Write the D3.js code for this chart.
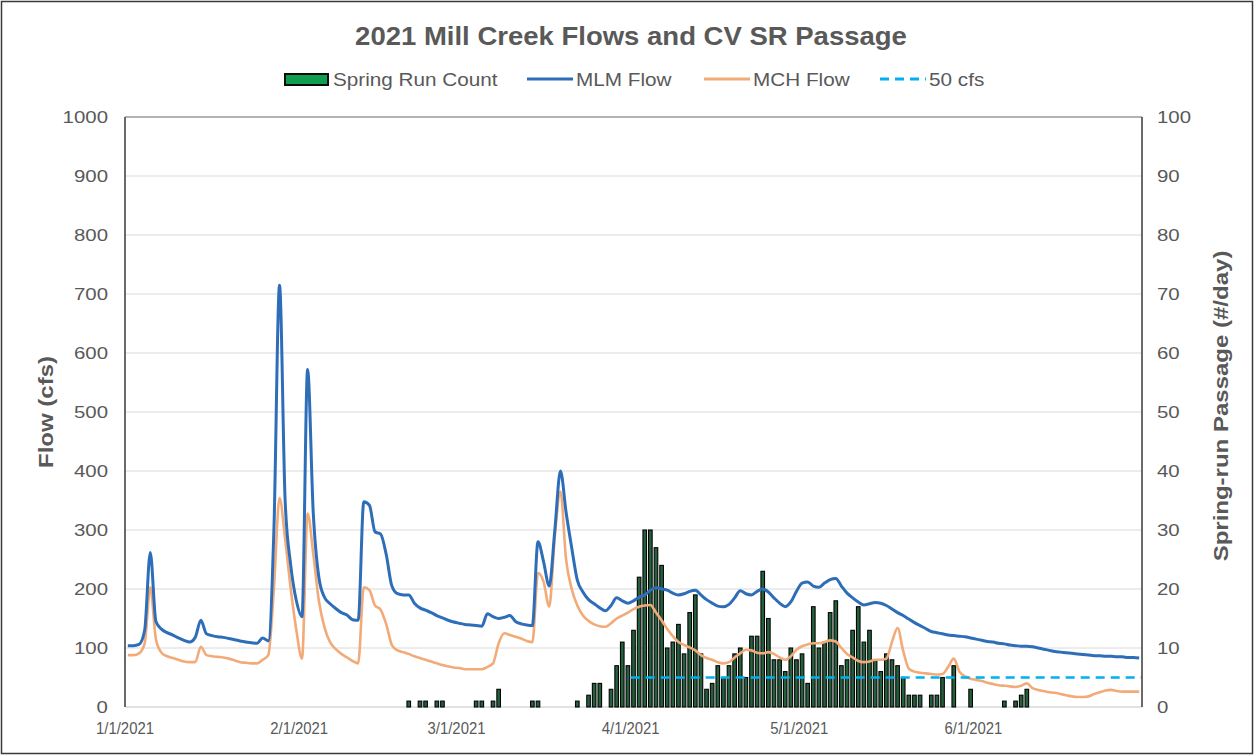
<!DOCTYPE html>
<html>
<head>
<meta charset="utf-8">
<script src="https://cdn.jsdelivr.net/npm/d3@7"></script>
<style>
  body { margin: 0; background: #fff; }
  text { font-family: "Liberation Sans", Arial, sans-serif; fill: #595959; }
</style>
</head>
<body>
<svg id="chart" width="1255" height="756"></svg>
<script>
// ---- Data: daily values, 1 Jan 2021 through 30 Jun 2021 ----
const startDate = "2021-01-01";
const endDate = "2021-07-01";

// MLM gauge flow (cfs)
const mlmFlow = [
  104,104,106,130,262,145,132,126,122,117,
  113,110,118,147,124,121,119,118,116,114,
  112,110,109,108,117,112,300,715,350,240,
  180,153,572,330,220,186,175,167,160,156,
  148,147,348,342,297,293,258,205,192,190,
  190,176,168,164,160,155,151,147,144,142,
  140,139,138,137,158,153,150,152,155,145,
  141,139,138,280,246,205,300,400,330,270,
  215,195,182,175,168,163,172,185,180,176,
  180,186,190,198,202,200,198,193,190,192,
  196,198,190,182,176,171,170,174,185,197,
  192,190,196,200,195,185,176,170,178,196,
  210,212,205,203,210,216,218,205,193,185,
  178,173,175,177,176,172,166,160,155,149,
  143,138,133,128,126,124,122,121,120,119,
  117,115,113,111,110,108,107,105,104,103,
  103,102,100,98,96,94,93,92,91,90,
  89,88,87,87,86,86,85,85,84,84,
  83
];

// MCH gauge flow (cfs)
const mchFlow = [
  88,88,91,108,203,115,92,86,83,80,
  77,76,76,102,88,86,85,84,82,79,
  76,75,74,74,80,88,200,354,285,200,
  130,82,328,260,180,135,110,98,90,84,
  78,74,203,198,172,165,140,105,96,93,
  90,86,83,80,77,74,71,69,67,66,
  64,64,64,64,68,74,108,125,122,119,
  116,112,110,227,212,170,290,365,250,200,
  172,155,146,140,137,136,142,150,155,160,
  166,170,172,173,160,147,132,120,110,105,
  101,96,88,83,80,76,74,76,84,91,
  97,96,92,91,93,90,84,80,86,97,
  103,106,108,108,110,113,111,100,90,84,
  78,76,77,80,80,82,110,134,95,65,
  60,58,57,56,55,56,68,82,60,52,
  48,46,44,41,39,37,36,35,34,36,
  40,32,29,27,25,24,22,20,18,17,
  17,18,22,25,28,29,27,26,26,26,
  26
];

// Spring-run Chinook passage (fish per day)
const springRunCount = [
  0,0,0,0,0,0,0,0,0,0,
  0,0,0,0,0,0,0,0,0,0,
  0,0,0,0,0,0,0,0,0,0,
  0,0,0,0,0,0,0,0,0,0,
  0,0,0,0,0,0,0,0,0,0,
  1,0,1,1,0,1,1,0,0,0,
  0,0,1,1,0,1,3,0,0,0,
  0,0,1,1,0,0,0,0,0,0,
  1,0,2,4,4,0,3,7,11,7,
  13,22,30,30,27,24,10,11,14,9,
  16,19,9,3,4,7,5,7,9,10,
  5,12,12,23,15,8,8,6,10,8,
  9,4,17,10,11,16,18,7,8,13,
  17,11,13,8,6,9,8,7,5,2,
  2,2,0,2,2,5,0,7,0,0,
  3,0,0,0,0,0,1,0,1,2,
  3,0,0,0,0,0,0,0,0,0,
  0,0,0,0,0,0,0,0,0,0,
  0
];

// 50 cfs reference line, shown from 1 April onward
const thresholdFlow = 50;
const thresholdStart = "2021-04-01";

// Axis ticks
const flowTicks = [0, 100, 200, 300, 400, 500, 600, 700, 800, 900, 1000];
const countTicks = [0, 10, 20, 30, 40, 50, 60, 70, 80, 90, 100];
const dateTicks = ["2021-01-01", "2021-02-01", "2021-03-01", "2021-04-01", "2021-05-01", "2021-06-01"];

// ---- Layout ----
const plot = { left: 125, right: 1142, top: 117, bottom: 707 };
const colors = {
  mlm: "#2e6db8",
  mch: "#f2ab78",
  threshold: "#00b0f0",
  barFill: "#24603c",
  barStroke: "#050505",
  grid: "#d9d9d9",
  axis: "#5a5a5a",
  text: "#595959"
};

const parse = d3.utcParse("%Y-%m-%d");
const t0 = parse(startDate), t1 = parse(endDate);
const DAY = 864e5;
const dayDate = i => new Date(t0.getTime() + (i + 0.5) * DAY);

const x = d3.scaleUtc().domain([t0, t1]).range([plot.left, plot.right]);
const yFlow = d3.scaleLinear().domain([0, 1000]).range([plot.bottom, plot.top]);
const yCount = d3.scaleLinear().domain([0, 100]).range([plot.bottom, plot.top]);

const svg = d3.select("#chart");

// widen text horizontally to the chart's typographic proportions
function stretch(sel, f) {
  sel.each(function () {
    const n = this.getComputedTextLength();
    this.setAttribute("textLength", n * f);
    this.setAttribute("lengthAdjust", "spacingAndGlyphs");
  });
}

// Chart frame
svg.append("rect")
  .attr("x", 1.5).attr("y", 1.5).attr("width", 1251).attr("height", 752)
  .attr("fill", "#fff").attr("stroke", "#3a3a3a").attr("stroke-width", 1.5);

// Gridlines
svg.append("g").selectAll("line")
  .data(flowTicks.filter(v => v > 0 && v < 1000))
  .join("line")
  .attr("x1", plot.left).attr("x2", plot.right)
  .attr("y1", d => yFlow(d)).attr("y2", d => yFlow(d))
  .attr("stroke", colors.grid).attr("stroke-width", 1.2);

// top border and bottom axis
svg.append("line")
  .attr("x1", plot.left).attr("x2", plot.right)
  .attr("y1", yFlow(1000)).attr("y2", yFlow(1000))
  .attr("stroke", "#9a9a9a").attr("stroke-width", 1.3);
svg.append("line")
  .attr("x1", plot.left).attr("x2", plot.right)
  .attr("y1", yFlow(0)).attr("y2", yFlow(0))
  .attr("stroke", colors.grid).attr("stroke-width", 1.3);

// Bars: spring-run count on the right axis
const barW = 3.6;
svg.append("g").selectAll("rect")
  .data(springRunCount.map((v, i) => ({ date: dayDate(i), v })).filter(d => d.v > 0))
  .join("rect")
  .attr("x", d => x(d.date) - barW / 2)
  .attr("y", d => yCount(d.v))
  .attr("width", barW)
  .attr("height", d => yCount(0) - yCount(d.v))
  .attr("fill", colors.barFill)
  .attr("stroke", colors.barStroke)
  .attr("stroke-width", 1.1);

// Flow lines
const line = d3.line()
  .x(d => x(d.date))
  .y(d => yFlow(d.v))
  .curve(d3.curveMonotoneX);

svg.append("path")
  .datum(mchFlow.map((v, i) => ({ date: dayDate(i), v })))
  .attr("d", line)
  .attr("fill", "none")
  .attr("stroke", colors.mch)
  .attr("stroke-width", 2.6)
  .attr("stroke-linejoin", "round");

svg.append("path")
  .datum(mlmFlow.map((v, i) => ({ date: dayDate(i), v })))
  .attr("d", line)
  .attr("fill", "none")
  .attr("stroke", colors.mlm)
  .attr("stroke-width", 3)
  .attr("stroke-linejoin", "round");

// 50 cfs reference
svg.append("line")
  .attr("x1", x(parse(thresholdStart))).attr("x2", x(t1))
  .attr("y1", yFlow(thresholdFlow)).attr("y2", yFlow(thresholdFlow))
  .attr("stroke", colors.threshold)
  .attr("stroke-width", 2.6)
  .attr("stroke-dasharray", "9,6");

// Axis lines (left and right)
[plot.left, plot.right].forEach(px => {
  svg.append("line")
    .attr("x1", px).attr("x2", px)
    .attr("y1", plot.top).attr("y2", plot.bottom)
    .attr("stroke", colors.axis).attr("stroke-width", 1.8);
});

// Left axis labels
const leftLabels = svg.append("g").selectAll("text")
  .data(flowTicks)
  .join("text")
  .attr("x", 108)
  .attr("y", d => yFlow(d))
  .attr("dy", "0.36em")
  .attr("text-anchor", "end")
  .attr("font-size", 17)
  .text(d => d);
stretch(leftLabels, 1.2);

// Right axis labels
const rightLabels = svg.append("g").selectAll("text")
  .data(countTicks)
  .join("text")
  .attr("x", 1157)
  .attr("y", d => yCount(d))
  .attr("dy", "0.36em")
  .attr("text-anchor", "start")
  .attr("font-size", 17)
  .text(d => d);
stretch(rightLabels, 1.2);

// Date labels
const fmt = d3.utcFormat("%-m/%-d/%Y");
const dateLabels = svg.append("g").selectAll("text")
  .data(dateTicks.map(parse))
  .join("text")
  .attr("x", d => x(d))
  .attr("y", 734)
  .attr("text-anchor", "middle")
  .attr("font-size", 16)
  .text(d => fmt(d));
stretch(dateLabels, 0.93);

// Title
const title = svg.append("text")
  .attr("x", 631).attr("y", 45)
  .attr("text-anchor", "middle")
  .attr("font-size", 25)
  .attr("font-weight", "bold")
  .text("2021 Mill Creek Flows and CV SR Passage");
stretch(title, 1.1);

// Axis titles
const yTitle = svg.append("text")
  .attr("transform", "translate(53,412) rotate(-90)")
  .attr("text-anchor", "middle")
  .attr("font-size", 20)
  .attr("font-weight", "bold")
  .text("Flow (cfs)");
stretch(yTitle, 1.2);

const y2Title = svg.append("text")
  .attr("transform", "translate(1228,406) rotate(-90)")
  .attr("text-anchor", "middle")
  .attr("font-size", 20)
  .attr("font-weight", "bold")
  .text("Spring-run Passage (#/day)");
stretch(y2Title, 1.2);

// Legend
const legend = svg.append("g");
const legendY = 79;
const legendItems = [
  { label: "Spring Run Count", kind: "bar", x: 285 },
  { label: "MLM Flow", kind: "line", color: colors.mlm, x: 527 },
  { label: "MCH Flow", kind: "line", color: colors.mch, x: 704 },
  { label: "50 cfs", kind: "dash", color: colors.threshold, x: 880 }
];
legendItems.forEach(it => {
  if (it.kind === "bar") {
    legend.append("rect")
      .attr("x", it.x).attr("y", legendY - 5).attr("width", 43).attr("height", 11)
      .attr("fill", "#0f9d50").attr("stroke", "#0b0b0b").attr("stroke-width", 2);
  } else {
    legend.append("line")
      .attr("x1", it.x).attr("x2", it.x + 46)
      .attr("y1", legendY).attr("y2", legendY)
      .attr("stroke", it.color).attr("stroke-width", 2.8)
      .attr("stroke-dasharray", it.kind === "dash" ? "9,6" : null);
  }
  const t = legend.append("text")
    .attr("x", it.x + (it.kind === "bar" ? 48 : 49))
    .attr("y", legendY + 6.5)
    .attr("font-size", 18)
    .text(it.label);
  stretch(t, 1.15);
});
</script>
</body>
</html>
